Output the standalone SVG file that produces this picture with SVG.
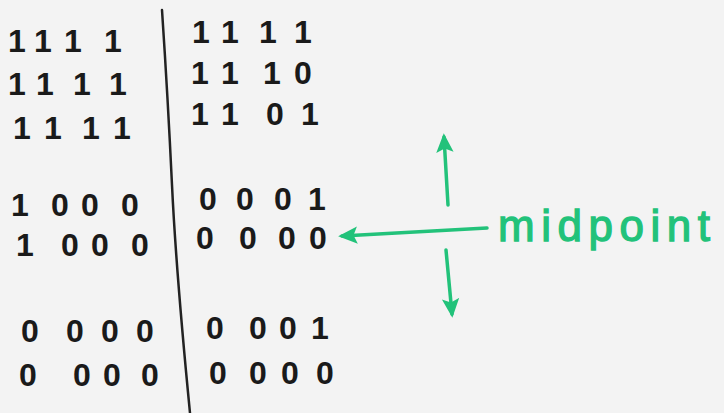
<svg xmlns="http://www.w3.org/2000/svg" width="724" height="413" viewBox="0 0 724 413">
  <style>
    .bits { font-family: "Liberation Sans", Arial, sans-serif; font-size: 32px; font-weight: bold; fill: #1a1a1a; text-anchor: middle; }
    .label { font-family: "Liberation Sans", Arial, sans-serif; font-size: 44px; fill: #22c27a; stroke: #22c27a; stroke-width: 1.3; }
    .pen { fill: none; stroke: #222; stroke-width: 2.5; stroke-linecap: round; }
    .green { fill: none; stroke: #22c27a; stroke-width: 3.5; stroke-linecap: round; }
  </style>
  <defs>
    <marker id="head" viewBox="0 0 10 10" refX="8" refY="5" markerWidth="5.5" markerHeight="5.5" orient="auto-start-reverse" markerUnits="strokeWidth">
      <path d="M0,0.5 L10,5 L0,9.5 L2,5 z" fill="#22c27a"/>
    </marker>
  </defs>

  <rect width="724" height="413" fill="#f3f3f3"/>

  <!-- vertical divider between the two halves -->
  <g id="divider">
    <path class="pen" d="M162,10 Q168,100 172,185 T190,413"/>
  </g>

  <!-- left-hand matrices -->
  <g id="left-top">
    <text class="bits" x="17 43 73 113" y="52">1111</text>
    <text class="bits" x="17 45 82 118" y="95">1111</text>
    <text class="bits" x="22 53 91 122" y="139">1111</text>
  </g>
  <g id="left-middle">
    <text class="bits" x="20 60 90 130" y="216">1000</text>
    <text class="bits" x="25 70 100 140" y="256">1000</text>
  </g>
  <g id="left-bottom">
    <text class="bits" x="30 75 110 145" y="342">0000</text>
    <text class="bits" x="28 82 112 150" y="386">0000</text>
  </g>

  <!-- right-hand matrices -->
  <g id="right-top">
    <text class="bits" x="201 230 268 303" y="43">1111</text>
    <text class="bits" x="200 230 272 303" y="84">1110</text>
    <text class="bits" x="200 230 275 310" y="125">1101</text>
  </g>
  <g id="right-middle">
    <text class="bits" x="208 245 283 317" y="210">0001</text>
    <text class="bits" x="205 248 287 318" y="249">0000</text>
  </g>
  <g id="right-bottom">
    <text class="bits" x="215 258 288 320" y="339">0001</text>
    <text class="bits" x="218 258 290 325" y="384">0000</text>
  </g>

  <!-- green annotation arrows -->
  <g id="connectors">
    <path class="green" d="M487,228 L342,236" marker-end="url(#head)"/>
    <path class="green" d="M448,205 L444,137" marker-end="url(#head)"/>
    <path class="green" d="M446,250 L452,314" marker-end="url(#head)"/>
  </g>

  <g id="midpoint-label">
    <text class="label" x="498" y="241" textLength="212" lengthAdjust="spacing">midpoint</text>
  </g>
</svg>
